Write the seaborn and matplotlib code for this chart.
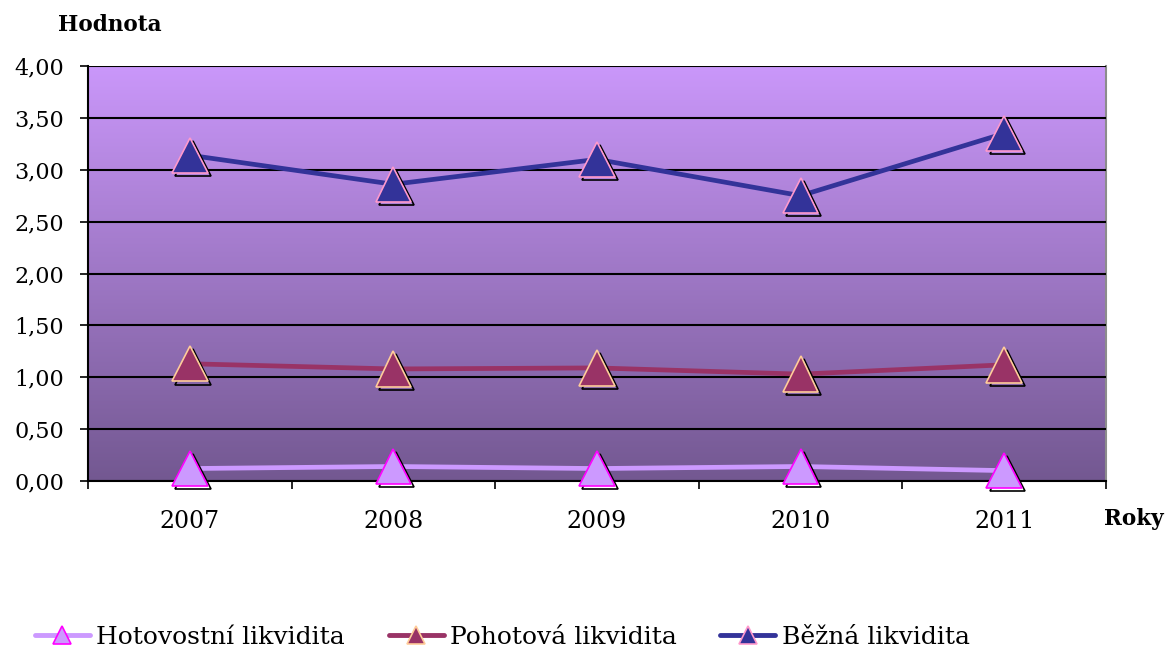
import numpy as np
import pandas as pd
import matplotlib
matplotlib.use("Agg")
import matplotlib.pyplot as plt
import matplotlib.patheffects as pe
from matplotlib.ticker import FixedLocator, FuncFormatter
from matplotlib.colors import LinearSegmentedColormap
import seaborn as sns

years = ["2007", "2008", "2009", "2010", "2011"]
hotovostni = [0.12, 0.14, 0.12, 0.14, 0.10]
pohotova = [1.13, 1.08, 1.09, 1.03, 1.12]
bezna = [3.14, 2.86, 3.10, 2.75, 3.35]
series_names = ["Hotovostní likvidita", "Pohotová likvidita", "Běžná likvidita"]
y_ticks = [0.0, 0.5, 1.0, 1.5, 2.0, 2.5, 3.0, 3.5, 4.0]

line_colors = ["#CC99FF", "#993366", "#333399"]
edge_colors = ["#FF00FF", "#FFCC99", "#FF99CC"]

sns.set_theme(style="white")
plt.rcParams["font.family"] = ["DejaVu Serif", "Liberation Serif"]
plt.rcParams["text.color"] = "black"
plt.rcParams["xtick.color"] = "black"
plt.rcParams["ytick.color"] = "black"

fig = plt.figure(figsize=(11.68, 6.5), dpi=100)
ax = fig.add_axes([88 / 1168, 1 - 481 / 650, (1106 - 88) / 1168, (481 - 66) / 650])

# vertical gradient background of the plot area
cmap = LinearSegmentedColormap.from_list("bg", ["#735891", "#CA97FA"])
grad = np.linspace(0, 1, 256).reshape(-1, 1)
ax.imshow(grad, cmap=cmap, origin="lower", aspect="auto",
          extent=(-0.5, 4.5, 0, 4), zorder=0)

df = pd.DataFrame({
    "rok": list(range(len(years))) * 3,
    "hodnota": hotovostni + pohotova + bezna,
    "ukazatel": [n for n in series_names for _ in years],
})

palette = dict(zip(series_names, line_colors))
sns.lineplot(data=df, x="rok", y="hodnota", hue="ukazatel", palette=palette,
             linewidth=3.4, ax=ax, legend=False, zorder=3)

shadow = [pe.SimpleLineShadow(offset=(2.2, -2.2), shadow_color="black", alpha=1.0), pe.Normal()]
for name, fc, ec in zip(series_names, line_colors, edge_colors):
    sub = df[df["ukazatel"] == name]
    ax.plot(sub["rok"], sub["hodnota"], linestyle="none", marker="^",
            markersize=25.5, markerfacecolor=fc, markeredgecolor=ec,
            markeredgewidth=1.2, zorder=4, path_effects=shadow, clip_on=False)

ax.set_xlim(-0.5, 4.5)
ax.set_ylim(0, 4)
ax.set_yticks(y_ticks)
ax.yaxis.set_major_formatter(FuncFormatter(lambda v, p: f"{v:.2f}".replace(".", ",")))
ax.set_xticks(range(len(years)))
ax.set_xticklabels(years)
ax.xaxis.set_minor_locator(FixedLocator(np.arange(-0.5, 5, 1.0)))
ax.tick_params(axis="x", which="major", length=0, pad=21, labelsize=17, labelcolor="black")
ax.tick_params(axis="x", which="minor", length=6, width=1.2, color="black", bottom=True)
ax.tick_params(axis="y", length=6, width=1.2, color="black", left=True, labelsize=16,
               pad=11, labelcolor="black")

ax.grid(axis="y", color="black", linewidth=1.5, zorder=1)
ax.grid(axis="x", visible=False)
ax.set_axisbelow(False)
for gl in ax.get_ygridlines():
    gl.set_zorder(1)

ax.spines["left"].set_color("black")
ax.spines["left"].set_linewidth(1.5)
ax.spines["bottom"].set_color("black")
ax.spines["bottom"].set_linewidth(1.5)
ax.spines["top"].set_visible(False)
ax.spines["right"].set_color("#8C8C8C")
ax.spines["right"].set_linewidth(1.5)
ax.set_xlabel("")
ax.set_ylabel("")

fig.text(110 / 1168, 1 - 25 / 650, "Hodnota", ha="center", va="center",
         fontsize=15.5, fontweight="bold", color="black")
fig.text(1134 / 1168, 1 - 519 / 650, "Roky", ha="center", va="center",
         fontsize=15.5, fontweight="bold", color="black")

handles = []
for name, fc, ec in zip(series_names, line_colors, edge_colors):
    h, = ax.plot([], [], color=fc, linewidth=3.5, marker="^", markersize=13,
                 markerfacecolor=fc, markeredgecolor=ec, markeredgewidth=1.2)
    handles.append(h)
leg = fig.legend(handles, series_names, loc="center", bbox_to_anchor=(0.43, 1 - 637 / 650),
                 ncol=3, frameon=False, fontsize=18, handlelength=2.2, columnspacing=1.75,
                 handletextpad=0.25)
for t in leg.get_texts():
    t.set_color("black")

fig.savefig("out.png", dpi=100, facecolor="white")
